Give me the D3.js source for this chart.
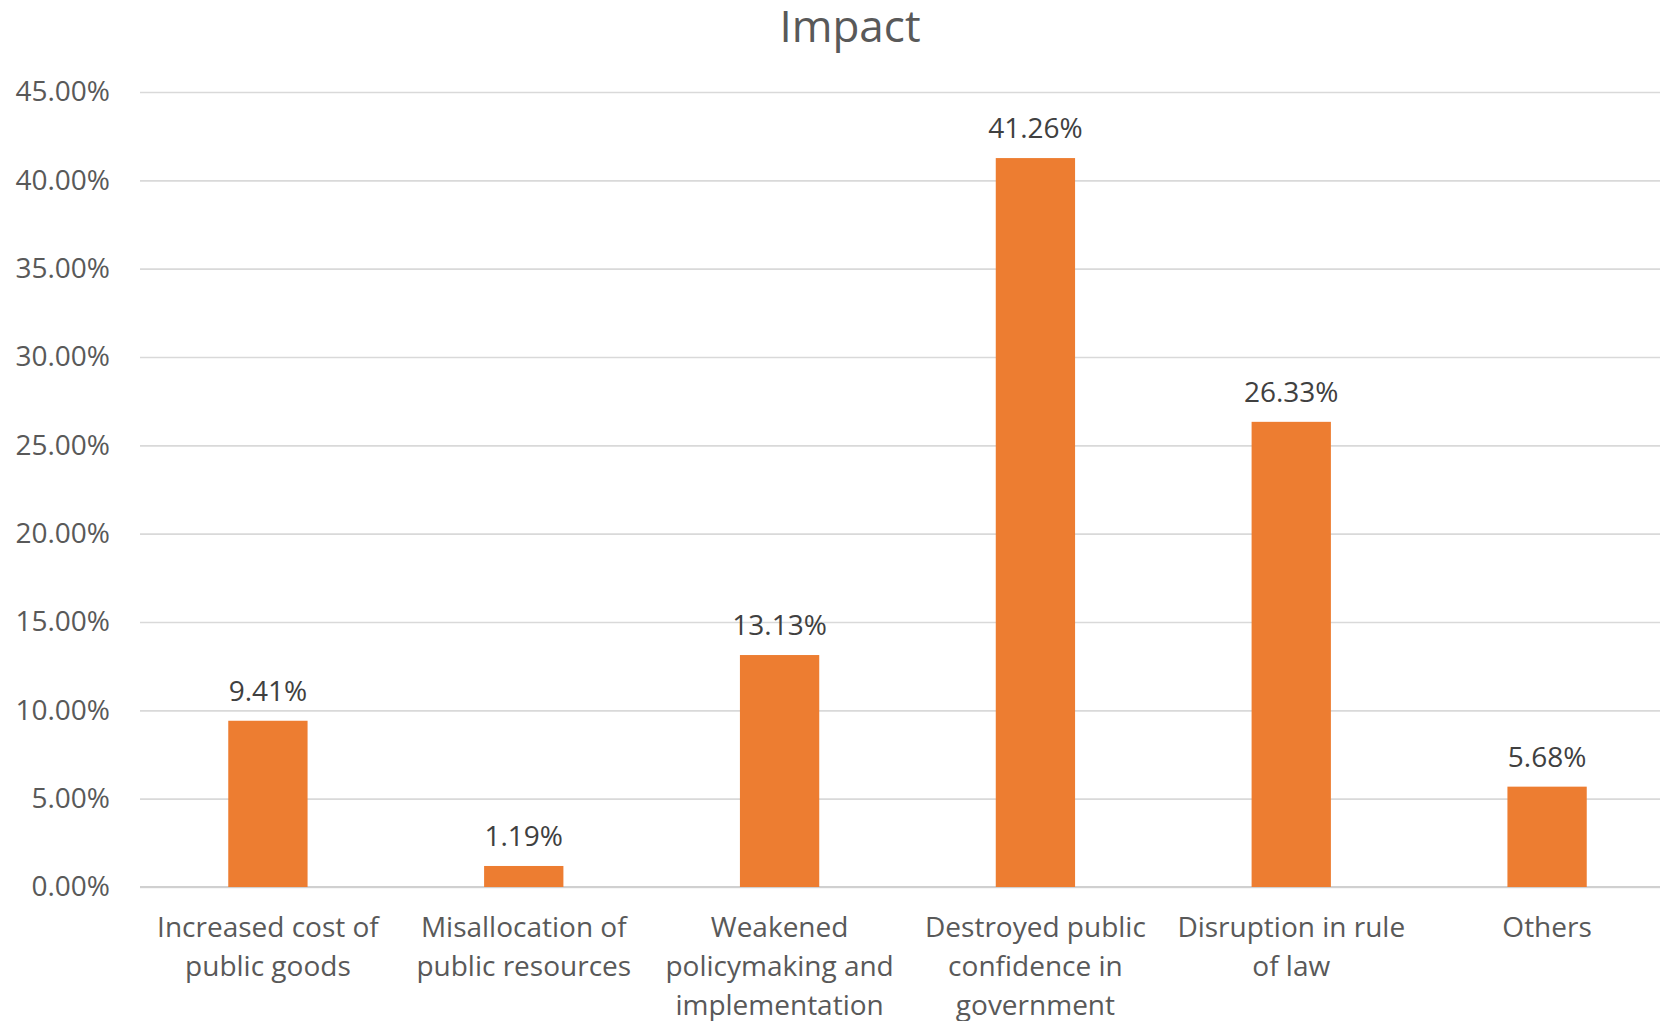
<!DOCTYPE html>
<html>
<head>
<meta charset="utf-8">
<script src="https://cdn.jsdelivr.net/npm/d3@7"></script>
<style>
  html, body { margin: 0; padding: 0; background: #fff; }
  svg { display: block; font-family: "Open Sans", sans-serif; }
</style>
</head>
<body>
<svg id="chart" width="1660" height="1021"></svg>
<script>
// Chart data
const title = "Impact";
const categories = [
  "Increased cost of public goods",
  "Misallocation of public resources",
  "Weakened policymaking and implementation",
  "Destroyed public confidence in government",
  "Disruption in rule of law",
  "Others"
];
// Category label lines as they wrap under each bar
const categoryLines = [
  ["Increased cost of", "public goods"],
  ["Misallocation of", "public resources"],
  ["Weakened", "policymaking and", "implementation"],
  ["Destroyed public", "confidence in", "government"],
  ["Disruption in rule", "of law"],
  ["Others"]
];
const values = [9.41, 1.19, 13.13, 41.26, 26.33, 5.68];
const yTicks = [0, 5, 10, 15, 20, 25, 30, 35, 40, 45];

const svg = d3.select("#chart");
const margin = { left: 140, right: -15, top: 92, bottom: 887 };

const x = d3.scaleBand()
  .domain(categories)
  .range([margin.left, 1660 - margin.right])
  .paddingInner(0.69)
  .paddingOuter(0.345);

const y = d3.scaleLinear()
  .domain([0, 45])
  .range([margin.bottom, margin.top]);

// Title
svg.append("text")
  .attr("x", 850)
  .attr("y", 42)
  .attr("text-anchor", "middle")
  .attr("fill", "#595959")
  .attr("font-size", 44)
  .text(title);

// Horizontal gridlines and y tick labels
const yAxis = d3.axisLeft(y)
  .tickValues(yTicks)
  .tickSize(-(x.range()[1] - x.range()[0]))
  .tickPadding(30)
  .tickFormat(d => d.toFixed(2) + "%");

const gy = svg.append("g")
  .attr("transform", `translate(${margin.left},0)`)
  .call(yAxis);
gy.select(".domain").remove();
gy.selectAll(".tick line")
  .attr("stroke", "#D9D9D9")
  .attr("stroke-width", 1.6);
gy.selectAll(".tick text")
  .attr("fill", "#595959")
  .attr("font-size", 28)
  .attr("font-family", "'Open Sans', sans-serif");

// Baseline
svg.append("line")
  .attr("x1", x.range()[0])
  .attr("x2", x.range()[1])
  .attr("y1", y(0))
  .attr("y2", y(0))
  .attr("stroke", "#D0D0D0")
  .attr("stroke-width", 2);

// Bars
svg.append("g")
  .selectAll("rect")
  .data(values)
  .join("rect")
  .attr("x", (d, i) => x(categories[i]))
  .attr("width", x.bandwidth())
  .attr("y", d => y(d))
  .attr("height", d => y(0) - y(d))
  .attr("fill", "#ED7D31");

// Value labels
svg.append("g")
  .selectAll("text")
  .data(values)
  .join("text")
  .attr("x", (d, i) => x(categories[i]) + x.bandwidth() / 2)
  .attr("y", d => y(d) - 20)
  .attr("text-anchor", "middle")
  .attr("fill", "#404040")
  .attr("font-size", 28)
  .text(d => d.toFixed(2) + "%");

// Category labels
const cat = svg.append("g")
  .selectAll("text")
  .data(categoryLines)
  .join("text")
  .attr("text-anchor", "middle")
  .attr("fill", "#595959")
  .attr("font-size", 28)
  .attr("transform", (d, i) => `translate(${x(categories[i]) + x.bandwidth() / 2},937)`);
cat.selectAll("tspan")
  .data(d => d)
  .join("tspan")
  .attr("x", 0)
  .attr("y", (d, j) => j * 38.8)
  .text(d => d);
</script>
</body>
</html>
